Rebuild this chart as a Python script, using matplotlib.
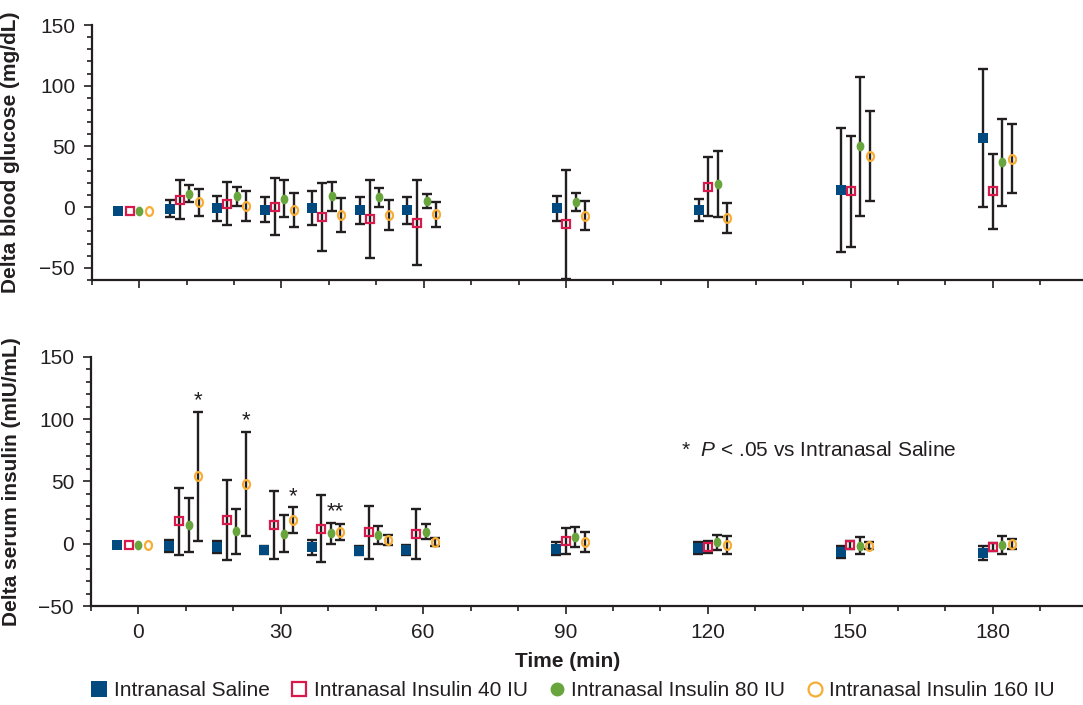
import numpy as np
import matplotlib
matplotlib.use("Agg")
import matplotlib.pyplot as plt
from matplotlib.path import Path
from matplotlib.lines import Line2D
from matplotlib.ticker import MultipleLocator

plt.rcParams['font.family'] = ['Liberation Sans', 'DejaVu Sans']
plt.rcParams['mathtext.fontset'] = 'custom'
plt.rcParams['mathtext.rm'] = 'Liberation Sans'
plt.rcParams['mathtext.it'] = 'Liberation Sans:italic'

# time points (min)
times = [0, 10, 20, 30, 40, 50, 60, 90, 120, 150, 180]
groups = ['Intranasal Saline', 'Intranasal Insulin 40 IU',
          'Intranasal Insulin 80 IU', 'Intranasal Insulin 160 IU']

# delta blood glucose (mg/dL), mean and SD
glu_saline = [-3, -1.5, -1, -2, -1, -2.5, -2.5, -1, -2.5, 14, 57]
glu_saline_sd = [0, 7, 10, 10, 14, 11, 11, 10.5, 9, 51, 57]
glu_40 = [-3, 6, 3, 0.5, -8, -10, -13, -14, 17, 13, 13]
glu_40_sd = [0, 16, 17.5, 23.5, 28, 32, 35, 45, 24, 46, 31]
glu_80 = [-3, 11, 9, 7, 9, 8, 5, 4.5, 19, 50, 37]
glu_80_sd = [0, 7, 8, 15.5, 12, 8, 6, 7.5, 27.5, 57.5, 36]
glu_160 = [-3, 4, 1, -2, -6.5, -6.5, -6, -7, -9, 42, 40]
glu_160_sd = [0, 11, 12, 14, 14, 12, 10.5, 12, 12.5, 37, 28.5]

# delta serum insulin (mIU/mL), mean and SD
ins_saline = [-1, -2, -2.5, -5, -3, -5.5, -5, -4, -3.5, -6.5, -7.5]
ins_saline_sd = [0, 5, 5, 3, 6, 3.5, 4, 5, 5, 5, 5.5]
ins_40 = [-1, 18, 19, 15, 12, 9, 8, 2, -2.5, -1, -2.5]
ins_40_sd = [0, 27, 32, 27, 27, 21, 20, 10.5, 5, 3, 3]
ins_80 = [-1, 15, 10, 8, 8.5, 7, 9.5, 5.5, 1, -1.5, -1]
ins_80_sd = [0, 22, 18, 15, 8.5, 7, 6, 8, 6, 6.5, 7.5]
ins_160 = [-1, 54, 48, 19, 9.5, 3, 1.5, 1, -1, -1.5, 0]
ins_160_sd = [0, 52, 42, 10.5, 6.5, 4, 3, 8, 7, 3, 4]

# significance marks on the insulin panel: (time, label)
sig_times = [10, 20, 30, 40]
sig_labels = ['*', '*', '*', '**']

dark = '#231f20'
colors = ['#004a80', '#d7194b', '#68a53d', '#f7ad33']

theta = np.linspace(0, 2 * np.pi, 64)
ellipse = Path(np.column_stack([0.8 * np.cos(theta), np.sin(theta)]))


def dodge(t, k):
    if t == 0:
        return t + [-4.4, -1.9, 0.0, 2.1][k]
    if t <= 60:
        return t + [-3.5, -1.4, 0.6, 2.6][k]
    return t + [-2.0, 0.0, 2.0, 4.0][k]


styles = [dict(marker='s', ms=7, mfc=colors[0], mec=colors[0], mew=0),
          dict(marker='s', ms=5.6, mfc='none', mec=colors[1], mew=1.6),
          dict(marker=ellipse, ms=7, mfc=colors[2], mec=colors[2], mew=0),
          dict(marker=ellipse, ms=6.3, mfc='none', mec=colors[3], mew=1.6)]

fig = plt.figure(figsize=(10.83, 7.05), dpi=100)
ax1 = fig.add_axes([0.0847, 0.6028, 0.9153, 0.3617])
ax2 = fig.add_axes([0.0838, 0.1404, 0.9162, 0.3536])


def draw(ax, means, sds):
    for k in range(4):
        xs = [dodge(t, k) for t in times]
        ax.errorbar(xs[1:], means[k][1:], yerr=sds[k][1:], fmt='none',
                    ecolor=dark, elinewidth=1.7, capsize=3.8, capthick=1.7,
                    zorder=2)
        ax.plot(xs, means[k], linestyle='none', zorder=3, **styles[k])


draw(ax1, [glu_saline, glu_40, glu_80, glu_160],
     [glu_saline_sd, glu_40_sd, glu_80_sd, glu_160_sd])
draw(ax2, [ins_saline, ins_40, ins_80, ins_160],
     [ins_saline_sd, ins_40_sd, ins_80_sd, ins_160_sd])

for t, lab in zip(sig_times, sig_labels):
    i = times.index(t)
    if lab == '**':
        x = (dodge(t, 2) + dodge(t, 3)) / 2
        y = max(ins_80[i] + ins_80_sd[i], ins_160[i] + ins_160_sd[i])
    else:
        x = dodge(t, 3)
        y = ins_160[i] + ins_160_sd[i]
    ax2.annotate(lab, (x, y), xytext=(0, 0), textcoords='offset points',
                 ha='center', va='bottom', fontsize=16, color=dark)

ax2.text(114.4, 75, r'*  $\it{P}$ < .05 vs Intranasal Saline', ha='left',
         va='center', fontsize=15, color=dark)

for ax, lo in ((ax1, -60), (ax2, -50)):
    ax.set_xlim(-10, 199)
    ax.set_ylim(lo, 150)
    ax.set_yticks([-50, 0, 50, 100, 150])
    ax.yaxis.set_minor_locator(MultipleLocator(10))
    ax.set_xticks([0, 30, 60, 90, 120, 150, 180])
    ax.xaxis.set_minor_locator(MultipleLocator(10))
    for s in ('top', 'right'):
        ax.spines[s].set_visible(False)
    for s in ('left', 'bottom'):
        ax.spines[s].set_linewidth(1.6)
        ax.spines[s].set_color(dark)
    ax.tick_params(which='major', direction='out', length=6, width=1.2,
                   color=dark, labelsize=15, labelcolor=dark, pad=6)
    ax.tick_params(which='minor', direction='out', length=3.5, width=1.2,
                   color=dark)
    ax.set_yticklabels(['\u221250', '0', '50', '100', '150'])

ax1.tick_params(axis='x', labelbottom=False)
ax1.set_ylabel('Delta blood glucose (mg/dL)', fontsize=15, fontweight='bold',
               color=dark)
ax2.set_ylabel('Delta serum insulin (mIU/mL)', fontsize=15, fontweight='bold',
               color=dark)
ax1.yaxis.set_label_coords(-0.072, 0.5)
ax2.yaxis.set_label_coords(-0.070, 0.5)

fig.text(0.5245, 0.061, 'Time (min)', ha='center', va='center', fontsize=15,
         fontweight='bold', color=dark)

handles = [Line2D([], [], linestyle='none', marker='s', ms=11,
                  mfc=colors[0], mec=colors[0], mew=0),
           Line2D([], [], linestyle='none', marker='s', ms=10,
                  mfc='none', mec=colors[1], mew=1.6),
           Line2D([], [], linestyle='none', marker='o', ms=10,
                  mfc=colors[2], mec=colors[2], mew=0),
           Line2D([], [], linestyle='none', marker='o', ms=10,
                  mfc='none', mec=colors[3], mew=1.6)]
leg = fig.legend(handles, groups, loc='center', bbox_to_anchor=(0.529, 0.02),
                 ncol=4, frameon=False, fontsize=15, handlelength=0.8,
                 handletextpad=0.3, columnspacing=1.0, borderpad=0)
for txt in leg.get_texts():
    txt.set_color(dark)

fig.savefig('out.png', dpi=100)
